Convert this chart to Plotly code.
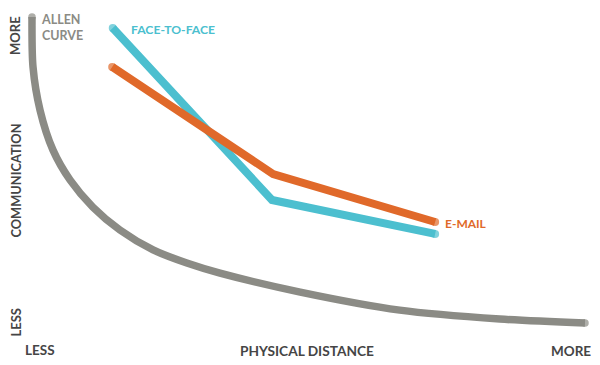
import plotly.graph_objects as go

# Data (distance 0..100, communication 0..100)
allen_x = [0, 0.18, 1.45, 3.8, 6.9, 11.0, 15.9, 21.9, 28.0, 34.0, 48.5, 66.5, 84.6, 100]
allen_y = [100, 83.7, 69.6, 56.5, 46.7, 37.9, 30.4, 23.9, 19.6, 16.3, 10.1, 4.2, 1.3, 0]

face_x = [14.6, 43.4, 72.9]
face_y = [96.4, 40.2, 29.1]

email_x = [14.5, 43.6, 72.9]
email_y = [83.7, 48.7, 33.0]

GRAY = "#8b8b85"
CYAN = "#4cbfcf"
ORANGE = "#e0692a"
DARK = "#454545"
FONT = "Lato"

W, H = 600, 365


def ends(n, s):
    return [s] + [0] * (n - 2) + [s]


fig = go.Figure()
fig.add_trace(go.Scatter(x=allen_x, y=allen_y, mode="lines+markers",
                         line=dict(color=GRAY, width=7.5, shape="spline", smoothing=0.8),
                         marker=dict(color=GRAY, size=ends(len(allen_x), 7.5), line=dict(width=0)),
                         hoverinfo="skip"))
fig.add_trace(go.Scatter(x=face_x, y=face_y, mode="lines+markers",
                         line=dict(color=CYAN, width=8),
                         marker=dict(color=CYAN, size=ends(len(face_x), 8), line=dict(width=0)),
                         hoverinfo="skip"))
fig.add_trace(go.Scatter(x=email_x, y=email_y, mode="lines+markers",
                         line=dict(color=ORANGE, width=8),
                         marker=dict(color=ORANGE, size=ends(len(email_x), 8), line=dict(width=0)),
                         hoverinfo="skip"))


def px(x):
    return x / W


def py(y):
    return 1 - y / H


anns = [
    dict(text="ALLEN<br>CURVE", x=px(39), y=py(27), xanchor="left", align="left",
         font=dict(color=GRAY, size=12.5)),
    dict(text="FACE-TO-FACE", x=face_x[0], y=face_y[0], xref="x", yref="y", xshift=16, yshift=-1.5,
         xanchor="left", font=dict(color=CYAN, size=12.2)),
    dict(text="E-MAIL", x=email_x[-1], y=email_y[-1], xref="x", yref="y", xshift=8, yshift=-1,
         xanchor="left", font=dict(color=ORANGE, size=12)),
    dict(text="MORE", x=px(15), y=py(36), textangle=-90, font=dict(color=DARK, size=13)),
    dict(text="COMMUNICATION", x=px(15), y=py(180.5), textangle=-90, font=dict(color=DARK, size=12.8)),
    dict(text="LESS", x=px(15.5), y=py(322), textangle=-90, font=dict(color=DARK, size=13)),
    dict(text="LESS", x=px(40), y=py(350), font=dict(color=DARK, size=13.5)),
    dict(text="PHYSICAL DISTANCE", x=px(307), y=py(350), font=dict(color=DARK, size=13.7)),
    dict(text="MORE", x=px(570.5), y=py(350.5), font=dict(color=DARK, size=13.5)),
]
for a in anns:
    a.setdefault("xref", "paper")
    a.setdefault("yref", "paper")
    a.setdefault("xanchor", "center")
    a.setdefault("yanchor", "middle")
    a["showarrow"] = False
    a["font"]["family"] = FONT
    a["font"]["weight"] = "bold"

x0 = -32 / 5.53
x1 = 568 / 5.53
y0 = (323 - 365) / 3.06
y1 = 323 / 3.06

fig.update_layout(
    width=W, height=H,
    margin=dict(l=0, r=0, t=0, b=0),
    paper_bgcolor="white", plot_bgcolor="white",
    showlegend=False,
    xaxis=dict(range=[x0, x1], visible=False, fixedrange=True),
    yaxis=dict(range=[y0, y1], visible=False, fixedrange=True),
    annotations=anns,
)

fig.write_html("out.html", config={"displayModeBar": False},
               post_script="document.body.style.margin='0';")
